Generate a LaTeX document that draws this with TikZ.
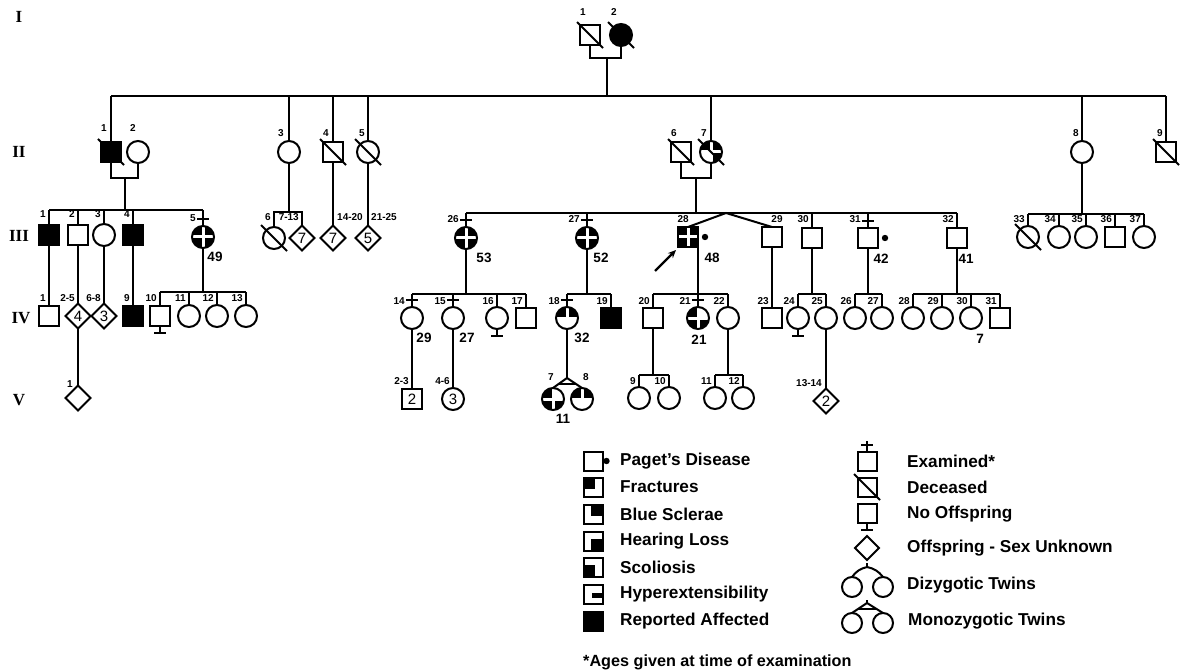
\documentclass[tikz,border=0pt]{standalone}
\usepackage{fontspec}
\setmainfont{Liberation Serif}
\setsansfont{Liberation Sans}
\usetikzlibrary{shapes.geometric,arrows.meta,calc}
\newcounter{pdl}
\def\pdG{1.5}
\newcommand\pdLab[4][num]{\stepcounter{pdl}\node[#1] (lb\arabic{pdl}) at (#2,#3) {#4};}
\newcommand\pdDec[1]{\draw[ln] (#1.center) ++(-13,-13) -- ++(26,26);}
\newcommand\pdExm[1]{\draw[ln] (#1.north) ++(-6,-7) -- ++(12,0);}
\newcommand\pdNoOff[1]{\draw[ln] (#1.south) -- ++(0,7) ++(-6,0) -- ++(12,0);}
\newcommand\pdPaget[1]{\fill (#1.east) ++(7,0) circle (3.2pt);}
\newcommand\pdQ[3]{\fill (#1.center) ++(#2*\pdG,#3*\pdG) rectangle ++(#2*14,#3*14);}
\newcommand\pdQs[5]{%
  \ifnum#2=1 \pdQ{#1}{-1}{-1}\fi
  \ifnum#3=1 \pdQ{#1}{1}{-1}\fi
  \ifnum#4=1 \pdQ{#1}{1}{1}\fi
  \ifnum#5=1 \pdQ{#1}{-1}{1}\fi}
\newcommand\pdCQ[5]{\begin{scope}\clip (#1.center) circle (11pt);\pdQs{#1}{#2}{#3}{#4}{#5}\end{scope}}
\newcommand\pdSQ[5]{\begin{scope}\clip (#1.south west) rectangle (#1.north east);\pdQs{#1}{#2}{#3}{#4}{#5}\end{scope}}
\begin{document}
\begin{tikzpicture}[x=1pt,y=-1pt,
  ln/.style={line width=2pt},
  base/.style={draw, line width=2pt, inner sep=0pt, outer sep=0pt, font=\sffamily\fontsize{15}{15}\selectfont},
  sq/.style={base, rectangle, minimum size=20pt},
  ci/.style={base, circle, minimum size=22pt},
  di/.style={base, diamond, minimum size=25pt},
  lsq/.style={base, rectangle, minimum size=19pt},
  aff/.style={fill=black},
  num/.style={font=\sffamily\bfseries\fontsize{10}{10}\selectfont, inner sep=0pt, anchor=east},
  numc/.style={num, anchor=center},
  numw/.style={num, anchor=west},
  age/.style={font=\sffamily\bfseries\fontsize{13.5}{14}\selectfont, inner sep=0pt},
  gen/.style={font=\rmfamily\bfseries\fontsize{17}{17}\selectfont, inner sep=0pt},
  leg/.style={font=\sffamily\bfseries\fontsize{17.2}{18}\selectfont, anchor=west, inner sep=0pt},
]
\useasboundingbox (0,0) rectangle (1186,671);

% generation numerals
\node[gen] (gI) at (19,17) {I};
\node[gen] (gII) at (19,152) {II};
\node[gen] (gIII) at (19,236) {III};
\node[gen] (gIV) at (21,318) {IV};
\node[gen] (gV) at (19,400) {V};

% ---------- Generation I ----------
\node[sq] (a1) at (590,35) {};
\node[ci,aff] (a2) at (621,35) {};
\pdDec{a1}\pdDec{a2}
\pdLab[numc]{583}{12}{1}
\pdLab[numc]{614}{12}{2}
\coordinate (m1) at (607,58);
\draw[ln] (a1.south) |- (m1) -| (a2.south);
\coordinate (s2) at (607,96);
\draw[ln] (m1) -- (s2);

% ---------- Generation II ----------
\node[sq,aff] (b1) at (111,152) {};
\node[ci] (b2) at (138,152) {};
\node[ci] (b3) at (289,152) {};
\node[sq] (b4) at (333,152) {};
\node[ci] (b5) at (368,152) {};
\node[sq] (b6) at (681,152) {};
\node[ci] (b7) at (711,152) {};
\node[ci] (b8) at (1082,152) {};
\node[sq] (b9) at (1166,152) {};
\pdCQ{b7}{1}{1}{1}{0}
\pdDec{b1}\pdDec{b4}\pdDec{b5}\pdDec{b6}\pdDec{b7}\pdDec{b9}
\draw[ln] (b1.north |- s2) -- (b9.north |- s2);
\foreach \n in {b1,b3,b4,b5,b7,b8,b9} \draw[ln] (\n.north |- s2) -- (\n.north);
\pdLab[numc]{104}{128}{1}
\pdLab[numc]{133}{128}{2}
\pdLab[numc]{281}{133}{3}
\pdLab[numc]{326}{133}{4}
\pdLab[numc]{362}{133}{5}
\pdLab[numc]{674}{133}{6}
\pdLab[numc]{704}{133}{7}
\pdLab[numc]{1076}{133}{8}
\pdLab[numc]{1160}{133}{9}
\coordinate (m2a) at (125,178);
\draw[ln] (b1.south) |- (m2a) -| (b2.south);
\coordinate (m2b) at (696,178);
\draw[ln] (b6.south) |- (m2b) -| (b7.south);

% ---------- Generation III ----------
\coordinate (s3a) at (125,210);
\draw[ln] (m2a) -- (s3a);
\node[sq,aff] (c1) at (49,235) {};
\node[sq] (c2) at (78,235) {};
\node[ci] (c3) at (104,235) {};
\node[sq,aff] (c4) at (133,235) {};
\node[ci] (c5) at (203,237) {};
\pdCQ{c5}{1}{1}{1}{1}
\pdExm{c5}
\draw[ln] (c1.north |- s3a) -- (c5.north |- s3a);
\foreach \n in {c1,c2,c3,c4,c5} \draw[ln] (\n.north |- s3a) -- (\n.north);
\pdLab{46}{214}{1}
\pdLab{75}{214}{2}
\pdLab{101}{214}{3}
\pdLab{130}{214}{4}
\pdLab{196}{218}{5}
\pdLab[age]{215}{257}{49}
\coordinate (s3b) at (289,212);
\draw[ln] (b3.south) -- (s3b);
\node[ci] (c6) at (274,238) {};
\node[di] (c7) at (302,238) {7};
\pdDec{c6}
\draw[ln] (c6.north) |- (s3b) -| (c7.north);
\node[di] (c14) at (333,238) {7};
\node[di] (c21) at (368,238) {5};
\draw[ln] (b4.south) -- (c14.north);
\draw[ln] (b5.south) -- (c21.north);
\pdLab{271}{217}{6}
\pdLab{299}{217}{7-13}
\pdLab[numw]{337}{217}{14-20}
\pdLab[numw]{371}{217}{21-25}
\coordinate (s3c) at (696,213);
\draw[ln] (m2b) -- (s3c);
\node[ci] (c26) at (466,238) {};
\node[ci] (c27) at (587,238) {};
\node[sq] (c28) at (688,237) {};
\node[sq] (c29) at (772,237) {};
\node[sq] (c30) at (812,238) {};
\node[sq] (c31) at (868,238) {};
\node[sq] (c32) at (957,238) {};
\pdCQ{c26}{1}{1}{1}{1}
\pdCQ{c27}{1}{1}{1}{1}
\pdSQ{c28}{1}{1}{1}{1}
\pdExm{c26}\pdExm{c27}\pdExm{c31}
\pdPaget{c28}\pdPaget{c31}
\draw[ln] (c26.north |- s3c) -- (c32.north |- s3c);
\foreach \n in {c26,c27,c30,c31,c32} \draw[ln] (\n.north |- s3c) -- (\n.north);
\coordinate (tw1) at (726,213);
\draw[ln] (c28.north) -- (tw1) -- (c29.north);
\pdLab{459}{219}{26}
\pdLab{580}{219}{27}
\pdLab{689}{219}{28}
\pdLab[numc]{777}{219}{29}
\pdLab{809}{219}{30}
\pdLab{861}{219}{31}
\pdLab{954}{219}{32}
\pdLab[age]{484}{258}{53}
\pdLab[age]{601}{258}{52}
\pdLab[age]{712}{258}{48}
\pdLab[age]{881}{259}{42}
\pdLab[age]{966}{259}{41}
\coordinate (arS) at (655,271);
\coordinate (arE) at (676,250);
\draw[line width=2.4pt, -{Stealth[length=8pt,width=7pt]}] (arS) -- (arE);
\coordinate (s3d) at (1082,214);
\draw[ln] (b8.south) -- (s3d);
\node[ci] (c33) at (1028,237) {};
\node[ci] (c34) at (1059,237) {};
\node[ci] (c35) at (1086,237) {};
\node[sq] (c36) at (1115,237) {};
\node[ci] (c37) at (1144,237) {};
\pdDec{c33}
\draw[ln] (c33.north |- s3d) -- (c37.north |- s3d);
\foreach \n in {c33,c34,c35,c36,c37} \draw[ln] (\n.north |- s3d) -- (\n.north);
\pdLab{1025}{219}{33}
\pdLab{1056}{219}{34}
\pdLab{1083}{219}{35}
\pdLab{1112}{219}{36}
\pdLab{1141}{219}{37}

% ---------- Generation IV ----------
\node[sq] (d1) at (49,316) {};
\node[di] (d2) at (78,316) {4};
\node[di] (d6) at (104,316) {3};
\node[sq,aff] (d9) at (133,316) {};
\draw[ln] (c1.south) -- (d1.north);
\draw[ln] (c2.south) -- (d2.north);
\draw[ln] (c3.south) -- (d6.north);
\draw[ln] (c4.south) -- (d9.north);
\pdLab{46}{298}{1}
\pdLab{75}{298}{2-5}
\pdLab{101}{298}{6-8}
\pdLab{130}{298}{9}
\coordinate (s4a) at (203,292);
\draw[ln] (c5.south) -- (s4a);
\node[sq] (d10) at (160,316) {};
\node[ci] (d11) at (189,316) {};
\node[ci] (d12) at (217,316) {};
\node[ci] (d13) at (246,316) {};
\pdNoOff{d10}
\draw[ln] (d10.north |- s4a) -- (d13.north |- s4a);
\foreach \n in {d10,d11,d12,d13} \draw[ln] (\n.north |- s4a) -- (\n.north);
\pdLab{157}{298}{10}
\pdLab{186}{298}{11}
\pdLab{214}{298}{12}
\pdLab{243}{298}{13}
\coordinate (s4b) at (466,294);
\draw[ln] (c26.south) -- (s4b);
\node[ci] (d14) at (412,318) {};
\node[ci] (d15) at (453,318) {};
\node[ci] (d16) at (497,318) {};
\node[sq] (d17) at (526,318) {};
\pdExm{d14}\pdExm{d15}\pdNoOff{d16}
\draw[ln] (d14.north |- s4b) -- (d17.north |- s4b);
\foreach \n in {d14,d15,d16,d17} \draw[ln] (\n.north |- s4b) -- (\n.north);
\pdLab{405}{301}{14}
\pdLab{446}{301}{15}
\pdLab{494}{301}{16}
\pdLab{523}{301}{17}
\pdLab[age]{424}{338}{29}
\pdLab[age]{467}{338}{27}
\coordinate (s4c) at (587,294);
\draw[ln] (c27.south) -- (s4c);
\node[ci] (d18) at (567,318) {};
\node[sq,aff] (d19) at (611,318) {};
\pdCQ{d18}{1}{1}{0}{0}
\pdExm{d18}
\draw[ln] (d18.north |- s4c) -- (d19.north |- s4c);
\foreach \n in {d18,d19} \draw[ln] (\n.north |- s4c) -- (\n.north);
\pdLab{560}{301}{18}
\pdLab{608}{301}{19}
\pdLab[age]{582}{338}{32}
\coordinate (s4d) at (698,294);
\node[sq] (d20) at (653,318) {};
\node[ci] (d21) at (698,318) {};
\node[ci] (d22) at (728,318) {};
\draw[ln] (c28.south east) -- (d21.north);
\pdCQ{d21}{1}{0}{1}{1}
\pdExm{d21}
\draw[ln] (d20.north |- s4d) -- (d22.north |- s4d);
\foreach \n in {d20,d22} \draw[ln] (\n.north |- s4d) -- (\n.north);
\pdLab{650}{301}{20}
\pdLab{691}{301}{21}
\pdLab{725}{301}{22}
\pdLab[age]{699}{340}{21}
\node[sq] (d23) at (772,318) {};
\draw[ln] (c29.south) -- (d23.north);
\pdLab{769}{301}{23}
\coordinate (s4e) at (812,294);
\draw[ln] (c30.south) -- (s4e);
\node[ci] (d24) at (798,318) {};
\node[ci] (d25) at (826,318) {};
\pdNoOff{d24}
\draw[ln] (d24.north |- s4e) -- (d25.north |- s4e);
\foreach \n in {d24,d25} \draw[ln] (\n.north |- s4e) -- (\n.north);
\pdLab{795}{301}{24}
\pdLab{823}{301}{25}
\coordinate (s4f) at (868,294);
\draw[ln] (c31.south) -- (s4f);
\node[ci] (d26) at (855,318) {};
\node[ci] (d27) at (882,318) {};
\draw[ln] (d26.north |- s4f) -- (d27.north |- s4f);
\foreach \n in {d26,d27} \draw[ln] (\n.north |- s4f) -- (\n.north);
\pdLab{852}{301}{26}
\pdLab{879}{301}{27}
\coordinate (s4g) at (957,294);
\draw[ln] (c32.south) -- (s4g);
\node[ci] (d28) at (913,318) {};
\node[ci] (d29) at (942,318) {};
\node[ci] (d30) at (971,318) {};
\node[sq] (d31) at (1000,318) {};
\draw[ln] (d28.north |- s4g) -- (d31.north |- s4g);
\foreach \n in {d28,d29,d30,d31} \draw[ln] (\n.north |- s4g) -- (\n.north);
\pdLab{910}{301}{28}
\pdLab{939}{301}{29}
\pdLab{968}{301}{30}
\pdLab{997}{301}{31}
\pdLab[age]{980}{339}{7}

% ---------- Generation V ----------
\node[di] (e1) at (78,398) {};
\draw[ln] (d2.south) -- (e1.north);
\pdLab{73}{384}{1}
\node[sq] (e2) at (412,399) {2};
\node[ci] (e4) at (453,399) {3};
\draw[ln] (d14.south) -- (e2.north);
\draw[ln] (d15.south) -- (e4.north);
\pdLab{409}{381}{2-3}
\pdLab{450}{381}{4-6}
\coordinate (tw2) at (567,378);
\draw[ln] (d18.south) -- (tw2);
\node[ci] (e7) at (553,399) {};
\node[ci] (e8) at (582,399) {};
\pdCQ{e7}{1}{0}{1}{1}
\pdCQ{e8}{1}{1}{0}{0}
\draw[ln] (e7.north) -- (tw2) -- (e8.north);
\draw[ln] ($(tw2)!0.6!(e7.north)$) -- ($(tw2)!0.6!(e8.north)$);
\pdLab[numc]{551}{377}{7}
\pdLab[numc]{586}{377}{8}
\pdLab[age]{563}{419}{11}
\coordinate (s5a) at (653,375);
\draw[ln] (d20.south) -- (s5a);
\node[ci] (e9) at (639,398) {};
\node[ci] (e10) at (669,398) {};
\draw[ln] (e9.north |- s5a) -- (e10.north |- s5a);
\foreach \n in {e9,e10} \draw[ln] (\n.north |- s5a) -- (\n.north);
\pdLab{636}{381}{9}
\pdLab{666}{381}{10}
\coordinate (s5b) at (728,375);
\draw[ln] (d22.south) -- (s5b);
\node[ci] (e11) at (715,398) {};
\node[ci] (e12) at (743,398) {};
\draw[ln] (e11.north |- s5b) -- (e12.north |- s5b);
\foreach \n in {e11,e12} \draw[ln] (\n.north |- s5b) -- (\n.north);
\pdLab{712}{381}{11}
\pdLab{740}{381}{12}
\node[di] (e13) at (826,401) {2};
\draw[ln] (d25.south) -- (e13.north);
\pdLab{822}{383}{13-14}

% ---------- Legend ----------
\def\pdG{-2}
\node[lsq] (k1) at (593,461) {};
\fill (k1.east) ++(4,0) circle (3.2pt);
\node[lsq] (k2) at (593,487) {};
\node[lsq] (k3) at (593,514) {};
\node[lsq] (k4) at (593,541) {};
\node[lsq] (k5) at (593,567) {};
\node[lsq] (k6) at (593,594) {};
\node[lsq,aff] (k7) at (593,621) {};
\pdSQ{k2}{1}{0}{0}{0}
\pdSQ{k3}{0}{1}{0}{0}
\pdSQ{k4}{0}{0}{1}{0}
\pdSQ{k5}{0}{0}{0}{1}
\fill (k6.center) ++(-1,-1) rectangle ++(11,5);
\node[leg] (t1) at (620,461) {Paget's Disease};
\node[leg] (t2) at (620,487) {Fractures};
\node[leg] (t3) at (620,514) {Blue Sclerae};
\node[leg] (t4) at (620,541) {Hearing Loss};
\node[leg] (t5) at (620,567) {Scoliosis};
\node[leg] (t6) at (620,594) {Hyperextensibility};
\node[leg] (t7) at (620,621) {Reported Affected};

\node[lsq] (k8) at (867,461) {};
\draw[ln] (k8.north) -- ++(0,-11);
\draw[ln] (k8.north) ++(-6,-7) -- ++(12,0);
\node[lsq] (k9) at (867,487) {};
\pdDec{k9}
\node[lsq] (k10) at (867,513) {};
\pdNoOff{k10}
\node[base, diamond, minimum size=24pt] (k11) at (867,548) {};
\coordinate (dz) at (867,567);
\draw[ln] (dz) -- ++(0,-4);
\node[base, circle, minimum size=20pt] (k12a) at (852,587) {};
\node[base, circle, minimum size=20pt] (k12b) at (883,587) {};
\draw[ln] (dz) to[bend right=20] (k12a.north);
\draw[ln] (dz) to[bend left=20] (k12b.north);
\coordinate (mz) at (867,603);
\draw[ln] (mz) -- ++(0,-3);
\node[base, circle, minimum size=20pt] (k13a) at (852,623) {};
\node[base, circle, minimum size=20pt] (k13b) at (883,623) {};
\draw[ln] (k13a.north) -- (mz) -- (k13b.north);
\draw[ln] ($(mz)!0.6!(k13a.north)$) -- ($(mz)!0.6!(k13b.north)$);
\node[leg] (t8) at (907,461) {Examined*};
\node[leg] (t9) at (907,487) {Deceased};
\node[leg] (t10) at (907,514) {No Offspring};
\node[leg] (t11) at (907,548) {Offspring - Sex Unknown};
\node[leg] (t12) at (907,585) {Dizygotic Twins};
\node[leg] (t13) at (908,621) {Monozygotic Twins};
\node[leg, font=\sffamily\bfseries\fontsize{16.2}{17}\selectfont] (fn) at (583,662) {*Ages given at time of examination};
\end{tikzpicture}
\end{document}
